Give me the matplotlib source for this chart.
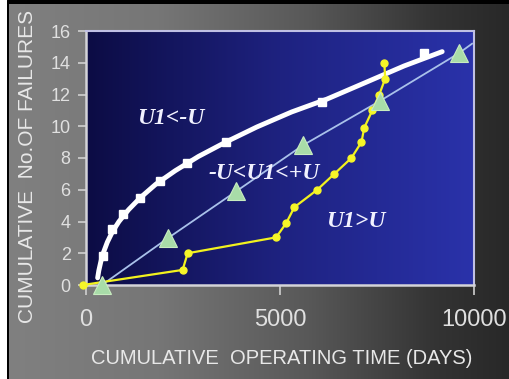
import matplotlib
matplotlib.use("Agg")
import matplotlib.pyplot as plt
from matplotlib import font_manager
import numpy as np

# fitted curve U1 < -U (white)
curve_x = [300, 330, 380, 450, 550, 680, 850, 1100, 1400, 1800, 2300, 2900, 3600,
           4400, 5300, 6200, 7200, 8200, 9180]
curve_y = [0.45, 0.9, 1.45, 2.05, 2.7, 3.35, 4.0, 4.75, 5.5, 6.35, 7.2, 8.1, 9.0,
           9.95, 10.9, 11.7, 12.75, 13.8, 14.7]
white_x = [440, 670, 950, 1390, 1900, 2600, 3620, 6090, 8710]
white_y = [1.8, 3.55, 4.5, 5.5, 6.55, 7.7, 9.0, 11.55, 14.6]

# -U < U1 < +U (triangles on a straight line)
tri_x = [410, 2110, 3870, 5590, 7580, 9610]
tri_y = [0.0, 2.95, 5.9, 8.8, 11.6, 14.6]
line_end = (9950, 15.2)

# U1 > U (yellow)
yel_x = [-80, 2490, 2620, 4900, 5160, 5370, 5960, 6400, 6840, 7100, 7170, 7380, 7560, 7710, 7690]
yel_y = [0.0, 0.95, 2.0, 3.0, 3.9, 4.9, 6.0, 7.0, 8.0, 9.0, 9.9, 11.0, 12.0, 13.0, 14.0]

xticks = [0, 5000, 10000]
yticks = [0, 2, 4, 6, 8, 10, 12, 14, 16]

names = {f.name for f in font_manager.fontManager.ttflist}
sans = 'Liberation Sans Narrow' if 'Liberation Sans Narrow' in names else 'Liberation Sans'

W, H = 509, 379
fig = plt.figure(figsize=(W / 100, H / 100), dpi=100, facecolor='white')

# black frame and grey gradient background
frame = fig.add_axes([7 / W, 0, 1, 1])
frame.set_axis_off()
frame.add_patch(plt.Rectangle((0, 0), 1, 1, color='black', transform=frame.transAxes))

bg = fig.add_axes([9 / W, 0, 1 - 9 / W, 1 - 4 / H])
bg.set_axis_off()
gx = np.linspace(0, 1, 300)
g = np.interp(gx, [0, 0.3, 0.6, 0.85, 1.0], [128, 118, 88, 52, 40]) / 255
img = np.dstack([g, g, g]).repeat(2, axis=0)
bg.imshow(img, aspect='auto', extent=(0, 1, 0, 1))
bg.set_xlim(0, 1)
bg.set_ylim(0, 1)

ax = fig.add_axes([86 / W, 1 - 285 / H, (474 - 86) / W, (285 - 31) / H])
bx = np.linspace(0, 1, 300)
r = np.interp(bx, [0, 0.5, 1], [12, 30, 42]) / 255
gg = np.interp(bx, [0, 0.5, 1], [12, 34, 50]) / 255
b = np.interp(bx, [0, 0.5, 1], [68, 128, 170]) / 255
blue = np.dstack([r, gg, b]).repeat(2, axis=0)
ax.imshow(blue, aspect='auto', extent=(0, 10000, 0, 16), zorder=0)
ax.set_xlim(0, 10000)
ax.set_ylim(0, 16)

# straight line with triangles
ax.plot(tri_x + [line_end[0]], tri_y + [line_end[1]], color='#a9c1ea', lw=1.3, zorder=2)
ax.plot(tri_x, tri_y, ls='none', marker='^', ms=13, color='#a8dca8',
        mec='#c8ecc0', mew=0.8, zorder=5, clip_on=False)

# yellow steps
ax.plot(yel_x, yel_y, color='#f2f21e', lw=1.6, marker='o', ms=5,
        mfc='#f6f628', mec='#f6f628', zorder=4, clip_on=False)

# white fitted curve + points
ax.plot(curve_x, curve_y, color='white', lw=3.5, solid_capstyle='round',
        solid_joinstyle='round', zorder=3)
ax.plot(white_x, white_y, ls='none', marker='s', ms=5.5, color='white', zorder=3)

lab = dict(color='#f2f2ff', fontsize=17, family='Liberation Serif',
           style='italic', weight='bold', ha='center', va='center', zorder=6)
ax.text(2190, 10.5, 'U1<-U', **lab)
ax.text(4580, 7.0, '-U<U1<+U', **lab)
ax.text(6940, 4.0, 'U1>U', **lab)

for s in ['top', 'right']:
    ax.spines[s].set_color('#c0c0e4')
    ax.spines[s].set_linewidth(1.5)
for s in ['left', 'bottom']:
    ax.spines[s].set_color('#d4d4d8')
    ax.spines[s].set_linewidth(1.8)

ax.set_xticks(xticks)
ax.set_yticks(yticks)
ax.tick_params(axis='y', direction='out', length=6, width=1.2, color='#d0d0d0',
               labelcolor='#e0e0e0', labelsize=13, pad=5)
ax.tick_params(axis='x', direction='out', length=7, width=1.2, color='#d0d0d0',
               labelcolor='#e0e0e0', labelsize=17, pad=10)
for t in ax.get_xticklabels() + ax.get_yticklabels():
    t.set_family(sans)

fig.text(282 / W, 1 - 358 / H, 'CUMULATIVE  OPERATING TIME (DAYS)', color='#e8e8e8',
         fontsize=14.5, family=sans, ha='center', va='center')
fig.text(28 / W, 1 - 166 / H, 'CUMULATIVE  No.OF FAILURES', color='#e8e8e8',
         fontsize=15, family=sans, ha='center', va='center', rotation=90)

fig.savefig('out.png', dpi=100, facecolor='white')
